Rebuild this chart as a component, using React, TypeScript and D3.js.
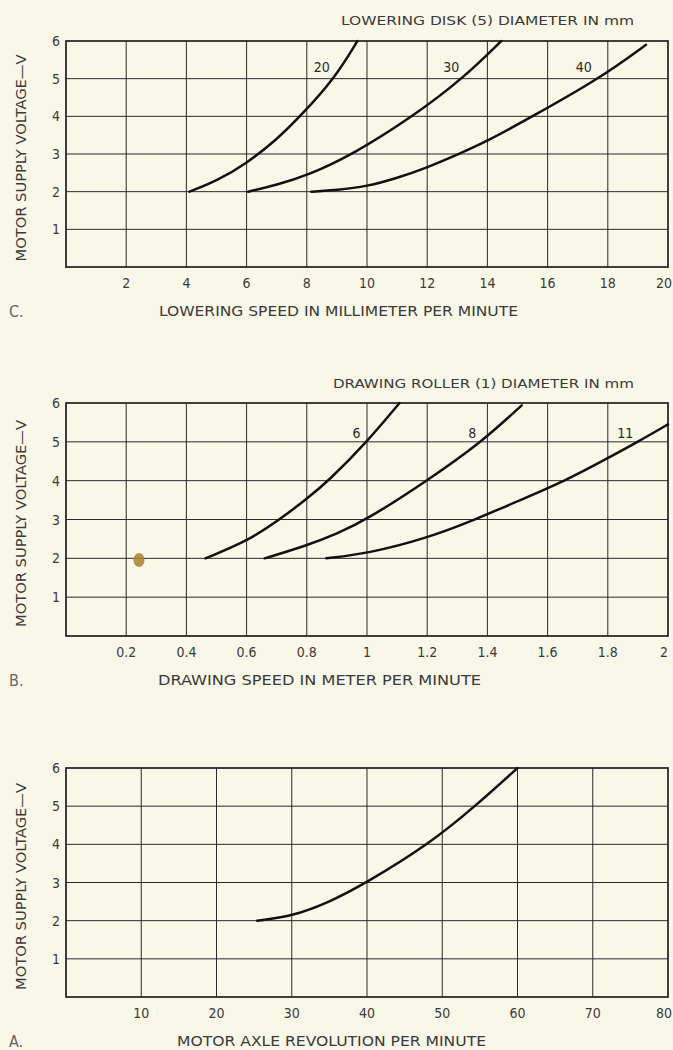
import React, { useRef, useEffect } from 'react';
import * as d3 from 'd3';

// Panel C - lowering speed (mm/min) vs voltage, per lowering disk diameter
const speedC20 = [[4.1, 2], [5, 2.28], [6, 2.75], [7, 3.38], [7.78, 4], [8.92, 5], [9.68, 6]];
const speedC30 = [[6.05, 2], [7, 2.18], [8, 2.42], [9.56, 3], [11.53, 4], [13.18, 5], [14.46, 6]];
const speedC40 = [[8.15, 2], [9, 2.04], [10, 2.14], [11, 2.36], [12, 2.64], [13.05, 3], [14, 3.34], [15.5, 4], [17.72, 5], [19.27, 5.9]];
const ticksC = [2, 4, 6, 8, 10, 12, 14, 16, 18, 20];

// Panel B - drawing speed (m/min) vs voltage, per drawing roller diameter
const speedB6 = [[0.463, 2], [0.6, 2.43], [0.71, 3], [0.8, 3.53], [0.873, 4], [1.0, 5], [1.108, 6]];
const speedB8 = [[0.66, 2], [0.8, 2.33], [0.9, 2.63], [1.0, 3], [1.2, 4], [1.382, 5], [1.514, 5.94]];
const speedB11 = [[0.865, 2], [1.0, 2.12], [1.2, 2.52], [1.36, 3], [1.5, 3.47], [1.66, 4], [1.8, 4.58], [1.9, 5], [2.0, 5.45]];
const ticksB = [0.2, 0.4, 0.6, 0.8, 1, 1.2, 1.4, 1.6, 1.8, 2];

// Panel A - motor axle revolution per minute vs voltage
const revA = [[25.4, 2], [30, 2.11], [35, 2.48], [40, 3], [48.2, 4], [54.4, 5], [60, 6]];
const ticksA = [10, 20, 30, 40, 50, 60, 70, 80];

const voltTicks = [1, 2, 3, 4, 5, 6];

const INK = '#2a2a2a';
const FONT = "'DejaVu Sans Condensed', 'Liberation Sans Narrow', sans-serif";

const panels = [
  {
    letter: 'C.', top: 41, bottom: 267, xMax: 20, ticks: ticksC,
    title: 'LOWERING DISK (5) DIAMETER IN mm', titleY: 25, titleX: 341, titleLen: 293,
    xTitle: 'LOWERING SPEED IN MILLIMETER PER MINUTE', xTitleX: 159, xTitleLen: 359,
    series: [
      { label: '20', pts: speedC20, lx: 8.5, ly: 5.3 },
      { label: '30', pts: speedC30, lx: 12.8, ly: 5.3 },
      { label: '40', pts: speedC40, lx: 17.2, ly: 5.3 },
    ],
  },
  {
    letter: 'B.', top: 403, bottom: 636, xMax: 2, ticks: ticksB,
    title: 'DRAWING ROLLER (1) DIAMETER IN mm', titleY: 388, titleX: 333, titleLen: 301,
    xTitle: 'DRAWING SPEED IN METER PER MINUTE', xTitleX: 158, xTitleLen: 323,
    series: [
      { label: '6', pts: speedB6, lx: 0.965, ly: 5.24 },
      { label: '8', pts: speedB8, lx: 1.35, ly: 5.24 },
      { label: '11', pts: speedB11, lx: 1.858, ly: 5.24 },
    ],
  },
  {
    letter: 'A.', top: 768, bottom: 997, xMax: 80, ticks: ticksA,
    title: null,
    xTitle: 'MOTOR AXLE REVOLUTION PER MINUTE', xTitleX: 177, xTitleLen: 309,
    series: [{ label: null, pts: revA }],
  },
];

const App = () => {
  const svgRef = useRef(null);

  useEffect(() => {
    const width = 673;
    const height = 1050;
    const left = 66;
    const right = 668;

    const svg = d3.select(svgRef.current)
      .attr('width', width)
      .attr('height', height)
      .style('position', 'absolute')
      .style('left', '0px')
      .style('top', '0px')
      .style('font-family', FONT);

    svg.selectAll('*').remove();

    // paper
    svg.append('rect')
      .attr('width', width)
      .attr('height', height)
      .attr('fill', '#f9f7e7');

    panels.forEach(p => {
      const x = d3.scaleLinear().domain([0, p.xMax]).range([left, right]);
      const y = d3.scaleLinear().domain([0, 6]).range([p.bottom, p.top]);
      const g = svg.append('g');

      // vertical grid
      g.selectAll('.vgrid')
        .data(p.ticks.filter(t => t < p.xMax))
        .enter()
        .append('line')
        .attr('x1', d => x(d))
        .attr('x2', d => x(d))
        .attr('y1', y(0))
        .attr('y2', y(6))
        .attr('stroke', INK)
        .attr('stroke-width', 1);

      // horizontal grid
      g.selectAll('.hgrid')
        .data(voltTicks.filter(t => t < 6))
        .enter()
        .append('line')
        .attr('x1', x(0))
        .attr('x2', x(p.xMax))
        .attr('y1', d => y(d))
        .attr('y2', d => y(d))
        .attr('stroke', INK)
        .attr('stroke-width', 1);

      // frame
      g.append('rect')
        .attr('x', x(0))
        .attr('y', y(6))
        .attr('width', x(p.xMax) - x(0))
        .attr('height', y(0) - y(6))
        .attr('fill', 'none')
        .attr('stroke', INK)
        .attr('stroke-width', 1.8);

      // y tick labels
      g.selectAll('.ylab')
        .data(voltTicks)
        .enter()
        .append('text')
        .attr('x', left - 6)
        .attr('y', d => y(d) + 5)
        .attr('text-anchor', 'end')
        .attr('font-size', 14)
        .attr('fill', '#3a3a3a')
        .text(d => d);

      // x tick labels (last one pulled in so it stays on the page)
      g.selectAll('.xlab')
        .data(p.ticks)
        .enter()
        .append('text')
        .attr('x', d => (d === p.xMax ? x(d) - 4 : x(d)))
        .attr('y', p.bottom + 21)
        .attr('text-anchor', 'middle')
        .attr('font-size', 14)
        .attr('fill', '#3a3a3a')
        .text(d => String(d));

      // y title
      const cy = (p.top + p.bottom) / 2 + 4;
      g.append('text')
        .attr('transform', `translate(26,${cy}) rotate(-90)`)
        .attr('text-anchor', 'middle')
        .attr('font-size', 14)
        .attr('textLength', 207)
        .attr('lengthAdjust', 'spacingAndGlyphs')
        .attr('fill', '#3a3a3a')
        .text('MOTOR SUPPLY VOLTAGE—V');

      // x title
      g.append('text')
        .attr('x', p.xTitleX)
        .attr('y', p.bottom + 49)
        .attr('font-size', 14)
        .attr('textLength', p.xTitleLen)
        .attr('lengthAdjust', 'spacingAndGlyphs')
        .attr('fill', '#3a3a3a')
        .text(p.xTitle);

      // panel letter
      g.append('text')
        .attr('x', 9)
        .attr('y', p.bottom + 50)
        .attr('font-size', 16)
        .attr('fill', '#666')
        .text(p.letter);

      // series title
      if (p.title) {
        g.append('text')
          .attr('x', p.titleX)
          .attr('y', p.titleY)
          .attr('font-size', 13)
          .attr('textLength', p.titleLen)
          .attr('lengthAdjust', 'spacingAndGlyphs')
          .attr('fill', '#3a3a3a')
          .text(p.title);
      }

      const line = d3.line()
        .x(d => x(d[0]))
        .y(d => y(d[1]))
        .curve(d3.curveBasis);

      p.series.forEach(s => {
        g.append('path')
          .attr('d', line(s.pts))
          .attr('fill', 'none')
          .attr('stroke', '#111')
          .attr('stroke-width', 2.5)
          .attr('stroke-linecap', 'round');

        if (s.label) {
          g.append('text')
            .attr('x', x(s.lx))
            .attr('y', y(s.ly) + 5)
            .attr('text-anchor', 'middle')
            .attr('font-size', 14)
            .attr('fill', '#2a2a2a')
            .text(s.label);
        }
      });
    });

    // stain on panel B
    svg.append('ellipse')
      .attr('cx', 139)
      .attr('cy', 560)
      .attr('rx', 5.5)
      .attr('ry', 7)
      .attr('fill', '#a9812e')
      .attr('opacity', 0.85);
  }, []);

  return <svg ref={svgRef}></svg>;
};

export default App;
